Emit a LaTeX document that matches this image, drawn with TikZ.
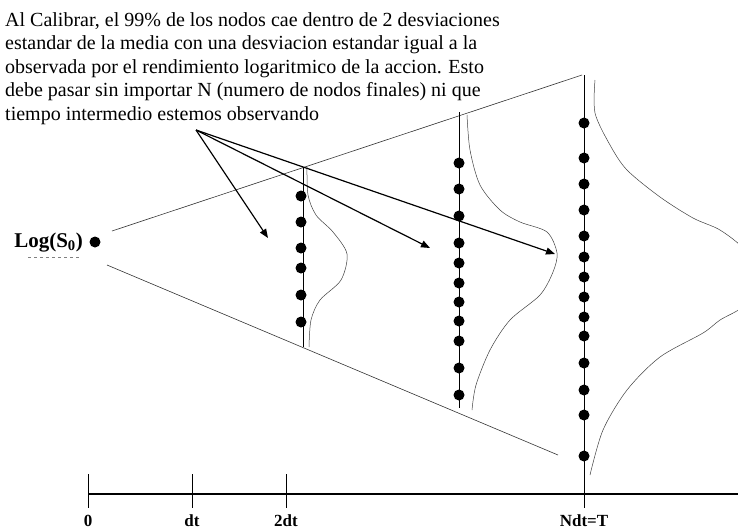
\documentclass[tikz,border=0pt]{standalone}
\usepackage{fontspec}
\setmainfont{Liberation Serif}
\usetikzlibrary{arrows.meta}

\begin{document}
\begin{tikzpicture}[
    x=1pt, y=-1pt,
    treenode/.style={circle, fill=black, inner sep=0pt, minimum size=11pt},
    column/.style={line width=1pt, draw=black},
    density/.style={line width=0.5pt, draw=black!75},
    cone/.style={line width=0.6pt, draw=black!80},
    pointer/.style={-{Triangle[length=9pt,width=7pt]}, line width=1.2pt},
    axislabel/.style={font=\fontsize{17}{20}\selectfont\bfseries, inner sep=0pt, text depth=0pt}
]
\useasboundingbox (0,0) rectangle (738,531);

% Note
\node[anchor=north west, inner sep=0pt, align=left,
      font=\fontsize{20}{23.5}\selectfont] (note) at (5,12) {
    Al Calibrar, el 99\% de los nodos cae dentro de 2 desviaciones \\
    estandar de la media con una desviacion estandar igual a la \\
    observada por el rendimiento logaritmico de la accion. Esto \\
    debe pasar sin importar N (numero de nodos finales) ni que \\
    tiempo intermedio estemos observando
};

% Start
\node[treenode] (s0) at (95,242) {};
\node[anchor=base east, inner sep=0pt,
      font=\fontsize{21}{24}\selectfont\bfseries] (logs0) at (83,247) {Log(S$_\mathbf{0}$)};
\draw[dashed, gray, line width=0.8pt] (28,257) -- (80,257);

% Cone
\coordinate (conetop) at (582,75);
\coordinate (conebot) at (558,455);
\draw[cone] (112,231) -- (conetop);
\draw[cone] (107,265) -- (conebot);

% Column 1
\draw[column] (303,167) -- (303,347);
\foreach \y [count=\i] in {196,222,248,268,295,322}
    \node[treenode] (a\i) at (301,\y) {};
\draw[density] plot[smooth] coordinates {(307,167) (308,195) (316,215) (333,232)
    (347,254) (341,280) (320,300) (311,320) (309,347)};

% Column 2
\draw[column] (459,112) -- (459,408);
\foreach \y [count=\i] in {163,189,216,243,263,283,302,321,341,368,395}
    \node[treenode] (b\i) at (459,\y) {};
\draw[density] plot[smooth] coordinates {(467,115) (470,150) (480,185) (500,210)
    (520,222) (547,232) (557,253) (553,272) (540,295) (510,320) (490,350)
    (476,385) (472,410)};

% Column 3
\draw[column] (584,75) -- (584,494);
\foreach \y [count=\i] in {123,158,184,210,236,257,277,297,317,336,363,390,415,456}
    \node[treenode] (c\i) at (584,\y) {};
\draw[density] plot[smooth] coordinates {(595,80) (595,113) (610,145) (627,170)
    (660,197) (693,218) (720,230) (745,250) (760,277) (745,305) (720,320)
    (703,333) (660,357) (627,390) (603,430) (590,475)};

% Time axis
\draw[line width=1.1pt] (88,494) -- (738,494);
\foreach \x/\t [count=\i] in {88/0, 192/dt, 286/2dt, 584/Ndt=T} {
    \draw[line width=0.9pt] (\x,474) -- (\x,508);
    \node[axislabel, anchor=base] (t\i) at (\x,526) {\t};
}

% Pointers
\coordinate (src) at (196,130);
\coordinate (tip1) at (268,238);
\coordinate (tip2) at (430,248);
\coordinate (tip3) at (555,254);
\draw[pointer] (src) -- (tip1);
\draw[pointer] (src) -- (tip2);
\draw[pointer] (src) -- (tip3);

\end{tikzpicture}
\end{document}
